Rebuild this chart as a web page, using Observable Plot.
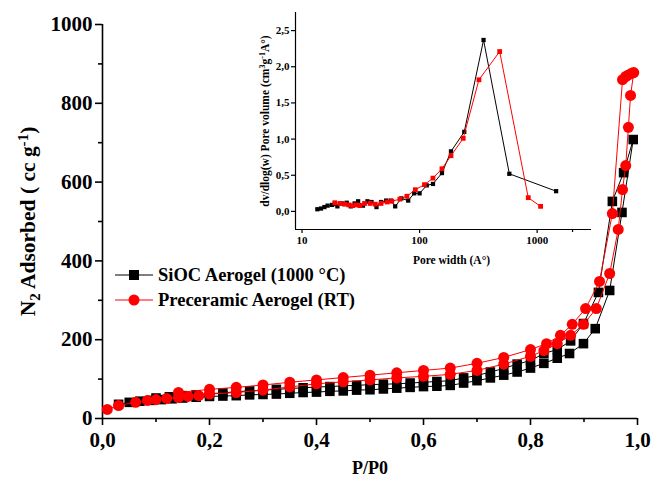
<!DOCTYPE html>
<html><head><meta charset="utf-8">
<script src="https://cdn.jsdelivr.net/npm/d3@7"></script>
<script src="https://cdn.jsdelivr.net/npm/@observablehq/plot@0.6"></script>
<style>
body{margin:0;background:#fff;}
#wrap{position:relative;width:654px;height:488px;background:#fff;}
#wrap svg{position:absolute;top:0;}
</style></head><body><div id="wrap"></div>
<script>
// ---- Main isotherm data (P/P0, N2 adsorbed cc/g) ----
const siocAdsP = [0.03,0.05,0.07,0.09,0.11,0.13,0.15,0.175,0.20,0.225,0.25,0.275,0.30,0.325,0.35,0.375,0.40,0.425,0.45,0.475,0.50,0.525,0.55,0.575,0.60,0.625,0.65,0.675,0.70,0.725,0.75,0.775,0.80,0.825,0.85,0.873,0.899,0.921,0.948,0.971,0.992];
const siocAdsV = [36,41,44,46,48,50,52,54,56,57,58,60,61,62,64,66,67,69,70,72,73,75,77,79,81,82,84,90,96,103,110,118,128,140,153,165,190,228,325,523,708];
const siocDesP = [0.974,0.953,0.927,0.899,0.875,0.85,0.825,0.80,0.775,0.75,0.725,0.70,0.675,0.65,0.625,0.60,0.575,0.55,0.525,0.50,0.475,0.45,0.425,0.40,0.375,0.35,0.325,0.30,0.275,0.25,0.225,0.20,0.175,0.15,0.125,0.10];
const siocDesV = [624,551,320,241,197,175,165,147,138,127,118,109,103,96,94,92,90,88,87,86,84,83,81,80,78,76,74,72,70,68,65,63,60,58,55,52];

const preAdsP = [0.009,0.03,0.062,0.084,0.10,0.12,0.142,0.16,0.18,0.20,0.25,0.30,0.35,0.40,0.45,0.50,0.55,0.60,0.65,0.70,0.75,0.80,0.825,0.85,0.875,0.899,0.923,0.948,0.964,0.972,0.978,0.983,0.987,0.993];
const preAdsV = [23,33,41,46,48,51,53,56,58,62,66,72,80,88,93,98,103,107,112,122,138,158,172,190,211,239,279,368,480,581,642,739,820,878];
const preDesP = [0.989,0.983,0.978,0.972,0.953,0.929,0.903,0.878,0.856,0.83,0.80,0.75,0.70,0.65,0.60,0.55,0.50,0.45,0.40,0.35,0.30,0.25,0.20,0.142];
const preDesV = [876,872,868,860,520,348,279,239,211,190,175,155,140,128,122,116,110,104,98,92,85,79,74,66];

// ---- Inset pore size distribution (pore width Å, dv/dlog(w)) ----
const psdSiocW = [13.5,14.5,15.5,16.5,18,20,22,24,26,28,30,33,36,39,43,47,52,57,62,70,80,90,100,115,130,155,185,240,350,580,1450];
const psdSiocV = [0.03,0.04,0.06,0.08,0.09,0.07,0.11,0.12,0.07,0.11,0.14,0.08,0.14,0.13,0.06,0.13,0.15,0.15,0.07,0.18,0.15,0.25,0.25,0.36,0.38,0.53,0.83,1.10,2.37,0.52,0.28];
const psdPreW = [19,21,23,25,27,29,31,34,38,42,47,53,58,68,78,92,110,130,155,185,235,320,480,840,1070];
const psdPreV = [0.12,0.11,0.10,0.09,0.08,0.09,0.08,0.11,0.11,0.10,0.11,0.13,0.14,0.17,0.21,0.30,0.37,0.46,0.59,0.77,1.01,1.82,2.21,0.19,0.07];

// ---- Ticks / labels ----
const xMajor = [0,0.2,0.4,0.6,0.8,1.0];
const xMinor = [0.1,0.3,0.5,0.7,0.9];
const yMajor = [0,200,400,600,800,1000];
const yMinor = [100,300,500,700,900];
const insetXTicks = [10,100,1000];
const insetXMinor = [2000];
const insetYTicks = [0,0.5,1.0,1.5,2.0,2.5];
const insetXDomain = [8.8,2900];
const insetYDomain = [-0.25,2.75];
const seriesNames = ["SiOC Aerogel (1000 °C)", "Preceramic Aerogel (RT)"];
const xTitle = "P/P0";
const yTitle = "N2 Adsorbed ( cc g-1)";
const insetXTitle = "Pore width (A°)";
const insetYTitle = "dv/dlog(w) Pore volume (cm3g-1A°)";

const FONT = "Liberation Serif, Times New Roman, serif";
const comma = d => d3.format(".1f")(d).replace(".", ",");

const zip = (ps, vs) => ps.map((p, i) => ({p, v: vs[i]}));
const sioc = [...zip(siocAdsP, siocAdsV), ...zip(siocDesP, siocDesV)];
const pre = [...zip(preAdsP, preAdsV), ...zip(preDesP, preDesV)];
const psdSioc = zip(psdSiocW, psdSiocV);
const psdPre = zip(psdPreW, psdPreV);

const main = Plot.plot({
  width: 654, height: 488,
  marginLeft: 102, marginRight: 17, marginTop: 24, marginBottom: 70,
  style: {fontFamily: FONT, fontWeight: "bold", background: "transparent", color: "black", overflow: "visible"},
  x: {domain: [0, 1]},
  y: {domain: [0, 1000]},
  marks: [
    Plot.axisX({ticks: xMajor, tickFormat: comma, tickSize: 7, tickPadding: 7, fontSize: 21, strokeWidth: 1.6, label: null}),
    Plot.axisX({ticks: xMinor, tickFormat: () => "", tickSize: 4, strokeWidth: 1.6, label: null}),
    Plot.axisY({ticks: yMajor, tickFormat: d => String(d), tickSize: 7, tickPadding: 3, fontSize: 21, strokeWidth: 1.6, label: null}),
    Plot.axisY({ticks: yMinor, tickFormat: () => "", tickSize: 4, strokeWidth: 1.6, label: null}),
    Plot.ruleY([0], {stroke: "black", strokeWidth: 1.6}),
    Plot.ruleX([0], {stroke: "black", strokeWidth: 1.6}),
    Plot.line(sioc, {x: "p", y: "v", stroke: "black", strokeWidth: 1}),
    Plot.dot(sioc, {x: "p", y: "v", symbol: "square", r: 5.4, fill: "black"}),
    Plot.line(pre, {x: "p", y: "v", stroke: "#ff0000", strokeWidth: 1}),
    Plot.dot(pre, {x: "p", y: "v", symbol: "circle", r: 5.5, fill: "#ff0000"}),
    Plot.text([xTitle], {text: d => d, frameAnchor: "bottom", textAnchor: "middle", dy: 55, fontSize: 18, fontWeight: "bold"}),
    Plot.text([yTitle], {text: d => d, frameAnchor: "left", textAnchor: "middle", dx: -74, rotate: -90, fontSize: 21.5, fontWeight: "bold"})
  ]
});
main.style.left = "0px";

const inset = Plot.plot({
  width: 424, height: 285,
  marginLeft: 65, marginRight: 63, marginTop: 12, marginBottom: 56,
  style: {fontFamily: FONT, fontWeight: "bold", background: "transparent", color: "black", overflow: "visible"},
  x: {type: "log", domain: insetXDomain},
  y: {domain: insetYDomain},
  marks: [
    Plot.axisX({ticks: insetXTicks, tickFormat: d => String(d), tickSize: 4, tickPadding: 3, fontSize: 11, strokeWidth: 1.2, label: null}),
    Plot.axisX({ticks: insetXMinor, tickFormat: () => "", tickSize: 3, strokeWidth: 1.2, label: null}),
    Plot.axisY({ticks: insetYTicks, tickFormat: comma, tickSize: 4, tickPadding: 2, fontSize: 11, strokeWidth: 1.2, label: null}),
    Plot.ruleY([insetYDomain[0]], {stroke: "black", strokeWidth: 1.2}),
    Plot.ruleX([insetXDomain[0]], {stroke: "black", strokeWidth: 1.2}),
    Plot.line(psdSioc, {x: "p", y: "v", stroke: "black", strokeWidth: 1}),
    Plot.dot(psdSioc, {x: "p", y: "v", symbol: "square", r: 2.4, fill: "black"}),
    Plot.line(psdPre, {x: "p", y: "v", stroke: "#ff0000", strokeWidth: 1}),
    Plot.dot(psdPre, {x: "p", y: "v", symbol: "square", r: 2.7, fill: "#ff0000"}),
    Plot.text([insetXTitle], {text: d => d, frameAnchor: "bottom", textAnchor: "middle", dx: 8, dy: 34, fontSize: 11.5, fontWeight: "bold"}),
    Plot.text([insetYTitle], {text: d => d, frameAnchor: "left", textAnchor: "middle", dx: -30, rotate: -90, fontSize: 11.5, fontWeight: "bold"})
  ]
});
inset.style.left = "230px";

const wrap = document.getElementById("wrap");
wrap.appendChild(main);
wrap.appendChild(inset);

// rich text (subscripts / superscripts) on titles
function rich(svg, plain, parts) {
  d3.select(svg).selectAll("text").filter(function() { return this.textContent === plain; }).each(function() {
    const t = d3.select(this);
    t.text(null);
    for (const [s, shift] of parts) {
      const sp = t.append("tspan").text(s);
      if (shift) sp.attr("baseline-shift", shift).attr("font-size", "70%");
    }
  });
}
rich(main, yTitle, [["N"], ["2", "-30%"], [" Adsorbed ( cc g"], ["-1", "45%"], [")"]]);
rich(inset, insetYTitle, [["dv/dlog(w) Pore volume (cm"], ["3", "45%"], ["g"], ["-1", "45%"], ["A°)"]]);

// legend
const lg = d3.select(main).append("g").attr("font-family", FONT).attr("font-weight", "bold").attr("font-size", 18.5).attr("text-anchor", "start");
const items = [
  {name: seriesNames[0], color: "black", sym: "square", y: 275},
  {name: seriesNames[1], color: "#ff0000", sym: "circle", y: 300}
];
for (const it of items) {
  lg.append("line").attr("x1", 115).attr("x2", 153).attr("y1", it.y).attr("y2", it.y).attr("stroke", it.color).attr("stroke-width", 1);
  if (it.sym === "square") lg.append("rect").attr("x", 134 - 5).attr("y", it.y - 5).attr("width", 10).attr("height", 10).attr("fill", it.color);
  else lg.append("circle").attr("cx", 134).attr("cy", it.y).attr("r", 5.5).attr("fill", it.color);
  lg.append("text").attr("x", 158).attr("y", it.y).attr("dy", "0.35em").attr("text-anchor", "start").attr("fill", "black").text(it.name);
}
</script></body></html>
